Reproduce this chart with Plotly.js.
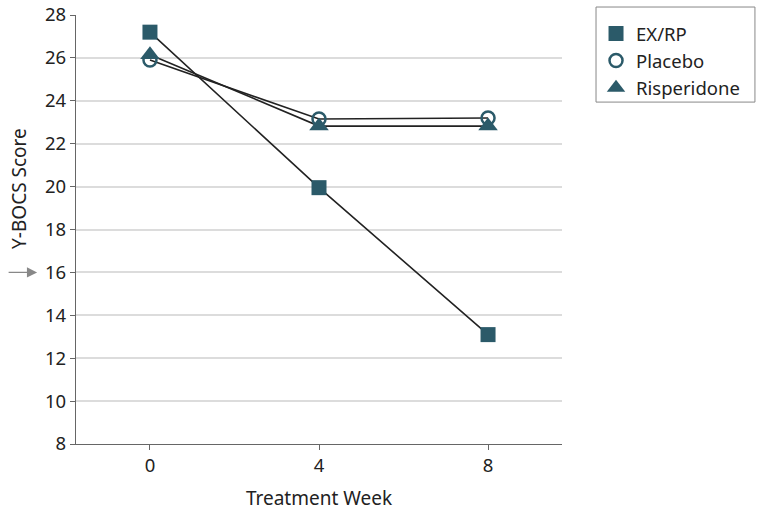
<!DOCTYPE html>
<html><head><meta charset="utf-8">
<script src="https://cdn.plot.ly/plotly-3.0.1.min.js"></script>
<style>body{margin:0;background:#fff}#c{width:764px;height:516px}</style>
</head><body><div id="c"></div>
<script>
const weeks = [0, 4, 8];
const exrp = [27.2, 19.95, 13.1];
const placebo = [25.9, 23.15, 23.2];
const risperidone = [26.15, 22.82, 22.82];
const yTicks = [8, 10, 12, 14, 16, 18, 20, 22, 24, 26, 28];
const xTicks = [0, 4, 8];
const names = ['EX/RP', 'Placebo', 'Risperidone'];

const teal = '#2b5a69';
const font = '"Noto Sans", "Open Sans", sans-serif';
const markers = [
  {symbol: 'square', size: 15, color: teal},
  {symbol: 'circle-open', size: 13, color: teal, line: {width: 2.5, color: teal}},
  {symbol: 'triangle-up', size: 17, color: teal}
];
const series = [exrp, placebo, risperidone];
const traces = [];
series.forEach((s, i) => {
  traces.push({x: weeks, y: s, mode: 'lines', line: {color: '#222', width: 1.6}, showlegend: false, hoverinfo: 'skip'});
});
series.forEach((s, i) => {
  traces.push({x: weeks, y: s, mode: 'markers', marker: markers[i], showlegend: false});
});
names.forEach((n, i) => {
  traces.push({x: [null], y: [null], mode: 'markers', name: n, marker: markers[i]});
});

const layout = {
  width: 764, height: 516,
  margin: {l: 76, r: 202, t: 15, b: 72},
  paper_bgcolor: '#fff', plot_bgcolor: '#fff',
  font: {family: font, size: 18.5, color: '#222'},
  xaxis: {
    range: [-1.75, 9.75], tickvals: xTicks, ticktext: xTicks.map(String),
    showgrid: false, zeroline: false, showline: true, linecolor: '#666', linewidth: 1.2,
    ticks: 'outside', ticklen: 5, tickcolor: '#666',
    title: {text: 'Treatment Week', font: {size: 19}, standoff: 15}
  },
  yaxis: {
    range: [8, 28], tickvals: yTicks, ticktext: yTicks.map(String),
    showgrid: true, gridcolor: '#dcdcdc', gridwidth: 1.5, zeroline: false,
    showline: true, linecolor: '#666', linewidth: 1.2,
    ticks: 'outside', ticklen: 5, tickcolor: '#666'
  },
  legend: {
    x: 1.07, y: 1.0, xanchor: 'left', yanchor: 'top',
    borderwidth: 0, bgcolor: 'rgba(0,0,0,0)',
    font: {size: 18.5}, tracegroupgap: 0, itemwidth: 30
  },
  shapes: [{
    type: 'rect', xref: 'paper', yref: 'paper',
    x0: 1.07, x1: 1.397, y0: 0.797, y1: 1.0186,
    line: {color: '#888', width: 1}, fillcolor: 'rgba(0,0,0,0)'
  }],
  annotations: [{
    xref: 'paper', yref: 'y', x: -0.08, y: 16, ax: -30, ay: 0,
    axref: 'pixel', ayref: 'pixel',
    showarrow: true, arrowhead: 2, arrowsize: 1.7, arrowwidth: 1.2, arrowcolor: '#888', text: ''
  }, {
    xref: 'paper', yref: 'paper', x: -0.117, y: 0.595, xanchor: 'center', yanchor: 'middle',
    textangle: -90, showarrow: false, text: 'Y-BOCS Score', font: {size: 19}
  }]
};
Plotly.newPlot('c', traces, layout, {displayModeBar: false});
</script></body></html>
